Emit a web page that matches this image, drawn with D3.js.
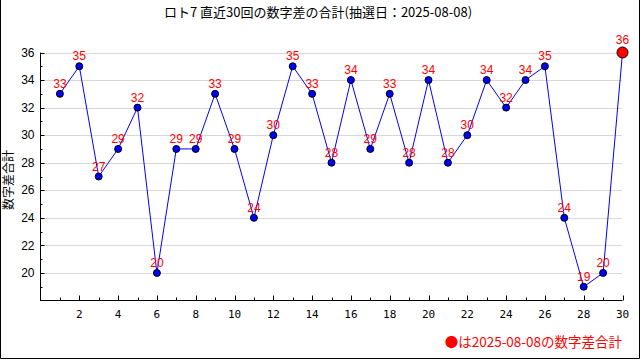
<!DOCTYPE html>
<html><head><meta charset="utf-8">
<script src="https://cdn.jsdelivr.net/npm/d3@7"></script>
<style>body{margin:0;background:#fff}svg{display:block}</style>
</head><body>
<script>
const titleText = "ロト7 直近30回の数字差の合計(抽選日：2025-08-08)";
const yLabel = "数字差合計";
const legendText = "●は2025-08-08の数字差合計";
const draws = d3.range(1, 31);
const sums = [33,35,27,29,32,20,29,29,33,29,24,30,35,33,28,34,29,33,28,34,28,30,34,32,34,35,24,19,20,36];
const xTicks = [2,4,6,8,10,12,14,16,18,20,22,24,26,28,30];
const yTicks = [20,22,24,26,28,30,32,34,36];

const W = 640, H = 360;
const svg = d3.select("body").append("svg").attr("width", W).attr("height", H);
svg.append("rect").attr("width", W).attr("height", H).attr("fill", "#fff");
// frame (left, right, bottom)
svg.append("path").attr("d", "M0.5,0 V358.5 H639.5 V0").attr("fill", "none").attr("stroke", "#000").attr("stroke-width", 1);

const x = d3.scaleLinear().domain([0, 30]).range([40.5, 622.5]);
const y = d3.scaleLinear().domain([18, 36]).range([300.5, 52.5]);

// grid
svg.append("g").selectAll("line").data(yTicks).join("line")
  .attr("x1", 41).attr("x2", 622).attr("y1", d => Math.round(y(d)) + 0.5).attr("y2", d => Math.round(y(d)) + 0.5)
  .attr("stroke", "#d8d8d8").attr("stroke-width", 1);

// y axis
const yMinor = d3.range(19, 37).filter(d => d % 2 === 1);
const yax = svg.append("g").attr("transform", "translate(40.5,0)");
yax.append("line").attr("y1", y(36)).attr("y2", y(18)).attr("stroke", "#000");
yax.selectAll(".maj").data(yTicks).join("line").attr("x1", 0).attr("x2", 4)
  .attr("y1", d => Math.round(y(d)) + 0.5).attr("y2", d => Math.round(y(d)) + 0.5).attr("stroke", "#000");
yax.selectAll(".min").data(yMinor).join("line").attr("x1", 0).attr("x2", 2)
  .attr("y1", d => Math.round(y(d)) + 0.5).attr("y2", d => Math.round(y(d)) + 0.5).attr("stroke", "#000");
yax.selectAll("text").data(yTicks).join("text").attr("x", -6).attr("y", d => y(d)).attr("dy", "0.35em")
  .attr("text-anchor", "end").attr("font-family", "Liberation Sans, Arial, sans-serif").attr("font-size", 12).text(d => d);

// x axis
const xax = svg.append("g").attr("transform", "translate(0,300.5)");
xax.append("line").attr("x1", 40).attr("x2", x(30)).attr("stroke", "#000");
xax.selectAll(".t").data(draws).join("line")
  .attr("x1", d => Math.round(x(d)) + 0.5).attr("x2", d => Math.round(x(d)) + 0.5)
  .attr("y1", 0).attr("y2", d => d % 2 === 0 ? -5 : -3).attr("stroke", "#000");
xax.selectAll("text").data(xTicks).join("text").attr("x", d => x(d)).attr("y", 17)
  .attr("text-anchor", "middle").attr("font-family", "DejaVu Sans Mono, monospace").attr("font-size", 11).text(d => d);

// title
svg.append("text").attr("x", 318).attr("y", 17).attr("text-anchor", "middle")
  .attr("font-family", "Noto Sans CJK JP, sans-serif").attr("font-size", 13).text(titleText);

// y label
svg.append("text").attr("transform", "translate(13,180) rotate(-90)").attr("text-anchor", "middle")
  .attr("font-family", "Noto Sans CJK JP, sans-serif").attr("font-size", 12).text(yLabel);

// line
const data = draws.map((d, i) => ({d, v: sums[i]}));
svg.append("path").datum(data).attr("fill", "none").attr("stroke", "#0000ff").attr("stroke-width", 1)
  .attr("d", d3.line().x(p => x(p.d)).y(p => y(p.v)));

// points
svg.append("g").selectAll("circle").data(data).join("circle")
  .attr("cx", p => x(p.d)).attr("cy", p => y(p.v))
  .attr("r", (p, i) => i === data.length - 1 ? 5.5 : 3.5)
  .attr("fill", (p, i) => i === data.length - 1 ? "#ff0000" : "#0000ff")
  .attr("stroke", "#000").attr("stroke-width", 1);

// value labels
svg.append("g").selectAll("text").data(data).join("text")
  .attr("x", p => x(p.d)).attr("y", (p, i) => y(p.v) - (i === data.length - 1 ? 9 : 6))
  .attr("text-anchor", "middle").attr("fill", "#ff0000")
  .attr("font-family", "Liberation Sans, Arial, sans-serif").attr("font-size", 12).text(p => p.v);

// legend
svg.append("text").attr("x", 622).attr("y", 347).attr("text-anchor", "end").attr("fill", "#ff0000")
  .attr("font-family", "Noto Sans CJK JP, sans-serif").attr("font-size", 13.5).text(legendText);
</script>
</body></html>
